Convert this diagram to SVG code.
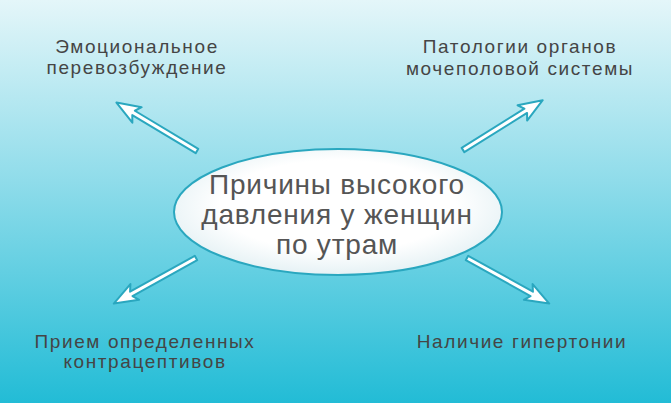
<svg xmlns="http://www.w3.org/2000/svg" width="671" height="403" viewBox="0 0 671 403">
<defs>
<linearGradient id="bg" x1="0" y1="0" x2="0" y2="1">
<stop offset="0" stop-color="#e4f6f9"/><stop offset="0.45" stop-color="#8fdcea"/><stop offset="1" stop-color="#22bcd6"/>
</linearGradient>
<radialGradient id="el" cx="0.5" cy="0.45" r="0.6">
<stop offset="0.6" stop-color="#ffffff"/><stop offset="1" stop-color="#dfeef2"/>
</radialGradient>
<polygon id="arr" points="0,-2.5 74,-2.5 70,-9 94,0 70,9 74,2.5 0,2.5" fill="#ffffff" stroke="#2aa7bf" stroke-width="2" stroke-linejoin="round"/>
<style>text{font-family:"Liberation Sans",Arial,sans-serif;fill:#454545;text-anchor:middle}.s{font-size:19px;letter-spacing:1.6px}.m{font-size:28px;letter-spacing:0.8px;fill:#555}</style>
</defs>
<rect width="671" height="403" fill="url(#bg)"/>
<g id="connectors">
<use href="#arr" transform="translate(197,151) rotate(211)"/>
<use href="#arr" transform="translate(463,150) rotate(-32)"/>
<use href="#arr" transform="translate(196,258) rotate(151)"/>
<use href="#arr" transform="translate(467,258) rotate(29)"/>
</g>
<g id="center">
<ellipse cx="338" cy="212" rx="164" ry="63" fill="url(#el)" stroke="#2aa7bf" stroke-width="2"/>
<text class="m" x="337" y="194">Причины высокого</text>
<text class="m" x="337" y="224">давления у женщин</text>
<text class="m" x="337" y="254">по утрам</text>
</g>
<g id="n1"><text class="s" x="137" y="53">Эмоциональное</text><text class="s" x="137" y="74">перевозбуждение</text></g>
<g id="n2"><text class="s" x="520" y="53">Патологии органов</text><text class="s" x="520" y="75">мочеполовой системы</text></g>
<g id="n3"><text class="s" x="145" y="348">Прием определенных</text><text class="s" x="145" y="368">контрацептивов</text></g>
<g id="n4"><text class="s" x="522" y="348">Наличие гипертонии</text></g>
</svg>
